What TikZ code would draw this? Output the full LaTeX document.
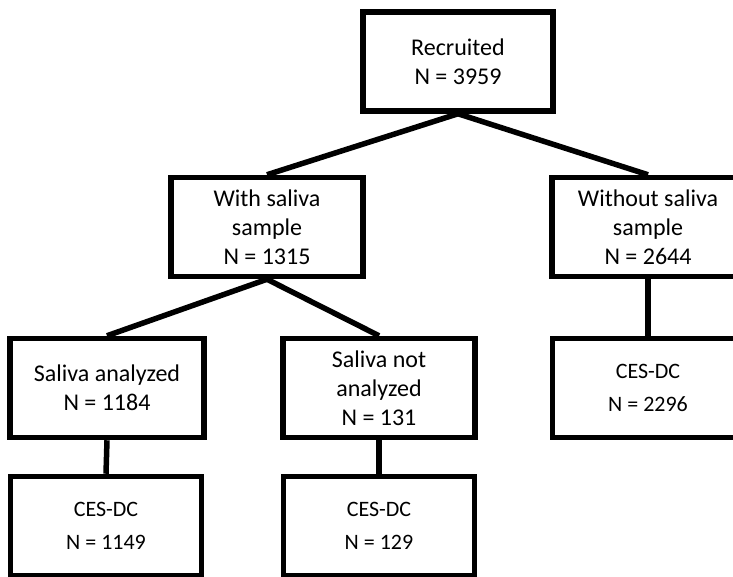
\documentclass[tikz,border=0pt]{standalone}
\usepackage{fontspec}
\setmainfont{Carlito}
\tikzset{
  stage/.style = {draw, line width=5.5pt, minimum width=#1, minimum height=99pt,
                  inner sep=0pt, align=center,
                  font=\fontsize{24}{29}\selectfont},
  stage/.default = 191pt,
  tally/.style = {stage, font=\fontsize{22}{33}\selectfont},
  link/.style = {line width=5.5pt}
}

\begin{document}
\begin{tikzpicture}[x=1pt, y=1pt]
	\def \rowA{-61.5}
	\def \rowB{-227}
	\def \rowC{-388}
	\def \rowD{-526}
	
	\useasboundingbox (0,0) rectangle (733,-576);
	
	% Boxes
	\node[stage=190pt] (recruited) at (458,\rowA) {Recruited\\N = 3959};
	\node[stage=192pt] (with) at (267,\rowB) {With saliva\\sample\\N = 1315};
	\node[stage=192pt] (without) at (648,\rowB) {Without saliva\\sample\\N = 2644};
	\node[stage=194pt] (analyzed) at (107,\rowC) {Saliva analyzed\\N = 1184};
	\node[stage=192pt] (notanalyzed) at (379,\rowC) {Saliva not\\analyzed\\N = 131};
	\node[tally=192pt] (cesB) at (648,\rowC) {CES-DC\\N = 2296};
	\node[tally=192pt] (cesA) at (106,\rowD) {CES-DC\\N = 1149};
	\node[tally=192pt] (cesC) at (379,\rowD) {CES-DC\\N = 129};
	
	% Links
	\draw[link] (recruited.south) -- (with.north);
	\draw[link] (recruited.south) -- (without.north);
	\draw[link] (with.south) -- (analyzed.north);
	\draw[link] (with.south) -- (notanalyzed.north);
	\draw[link] (analyzed.south) -- (cesA.north);
	\draw[link] (notanalyzed.south) -- (cesC.north);
	\draw[link] (without.south) -- (cesB.north);
	
\end{tikzpicture}
\end{document}
